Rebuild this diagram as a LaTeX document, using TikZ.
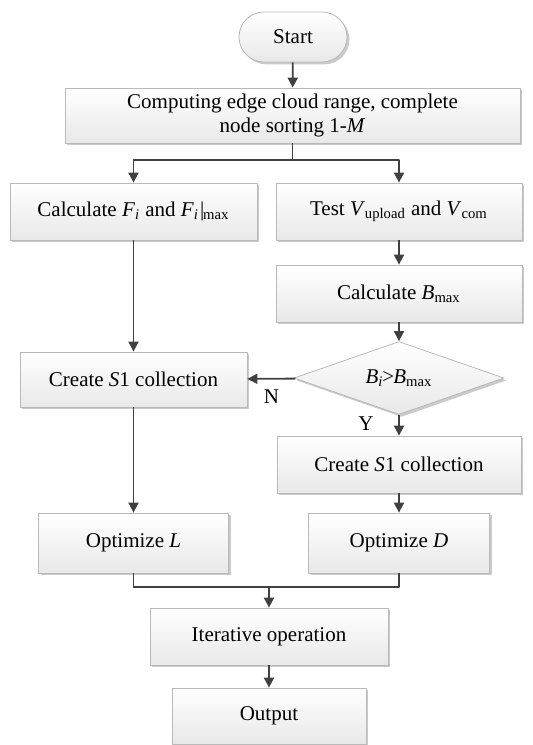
\documentclass[tikz,border=0pt]{standalone}
\usepackage{fontspec}
\setmainfont{Liberation Serif}
\usetikzlibrary{shapes.geometric,arrows.meta,shadows}
\newcommand\vsub[2]{\textit{#1}\textsubscript{#2}}
\begin{document}
\begin{tikzpicture}[x=.5pt, y=-.5pt, font=\fontsize{10.5}{12}\selectfont, line join=round, >={Triangle[width=5pt,length=5pt]}]
	\tikzset{box/.style={draw=gray!55, top color=white, bottom color=gray!18, drop shadow={shadow xshift=1.2pt, shadow yshift=-1.2pt, fill=gray!70, opacity=.6}, minimum height=28.5pt, inner sep=2pt},
		ln/.style={draw=gray!50!black, line width=.9pt},
		arr/.style={ln, ->}}
	\useasboundingbox (0,0) rectangle (532,745);
	\node[box, rounded corners=12.5pt, minimum width=54pt, minimum height=25pt] (start) at (293,37) {Start};
	\node[box, minimum width=227.5pt, minimum height=27.5pt, align=center] (comp) at (292.5,115.5) {Computing edge cloud range, complete\\node sorting 1-\textit{M}};
	\node[box, minimum width=123.5pt] (calcF) at (133.5,211.5) {Calculate \vsub{F}{\textit{i}} and \vsub{F}{\textit{i}}\kern.5pt\textbar\kern-.5pt\textsubscript{max}};
	\node[box, minimum width=123pt] (test) at (399,211.5) {Test \vsub{V}{upload} and \vsub{V}{com}};
	\node[box, minimum width=123pt] (calcB) at (399,293.5) {Calculate \vsub{B}{max}};
	\node[box, diamond, aspect=2.9, minimum width=105pt, minimum height=36.5pt, inner sep=0pt] (dec) at (399,378) {\vsub{B}{\textit{i}}\kern-.5pt>\kern-.5pt\vsub{B}{max}};
	\node[box, minimum width=113.5pt, minimum height=27.5pt] (s1l) at (133.5,379.5) {Create \textit{S}1 collection};
	\node[box, minimum width=122pt] (s1r) at (399,464.5) {Create \textit{S}1 collection};
	\node[box, minimum width=95pt, minimum height=30pt] (optL) at (133.5,543) {Optimize \textit{L}};
	\node[box, minimum width=90.5pt, minimum height=30pt] (optD) at (399,543) {Optimize \textit{D}};
	\node[box, minimum width=119pt] (iter) at (269,636.5) {Iterative operation};
	\node[box, minimum width=97pt, minimum height=28pt] (out) at (269,716) {Output};
	\coordinate (split) at (292.5,160);
	\coordinate (merge) at (269,587);
	\draw[arr] (start) -- (comp);
	\draw[ln] (comp) -- (split);
	\draw[arr] (split) -| (calcF);
	\draw[arr] (split) -| (test);
	\draw[arr] (test) -- (calcB);
	\draw[arr] (calcB) -- (dec);
	\draw[arr] (dec) -- node[below, inner sep=5pt]{N} (s1l);
	\draw[arr] (dec) -- node[left, pos=.4, xshift=-9pt]{Y} (s1r);
	\draw[arr] (calcF) -- (s1l);
	\draw[arr] (s1l) -- (optL);
	\draw[arr] (s1r) -- (optD);
	\draw[ln] (optL) |- (merge) (optD) |- (merge);
	\draw[arr] (merge) -- (iter);
	\draw[arr] (iter) -- (out);
\end{tikzpicture}
\end{document}
